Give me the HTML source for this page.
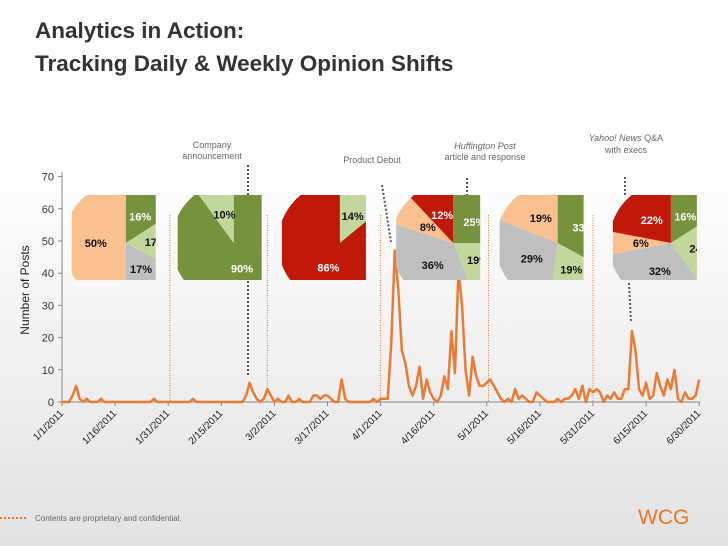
<!DOCTYPE html>
<html><head><meta charset="utf-8"><style>
html,body{margin:0;padding:0}
body{width:728px;height:546px;overflow:hidden;font-family:"Liberation Sans",sans-serif;background:linear-gradient(#fff 0%,#fff 30%,#f3f3f3 60%,#e2e2e2 100%)}
svg{position:absolute;left:0;top:0}
</style></head><body>
<svg id="c" width="728" height="546">
<text x="35" y="38" font-size="22.5" font-weight="bold" fill="#333">Analytics in Action:</text>
<text x="35" y="71" font-size="22.5" font-weight="bold" fill="#333">Tracking Daily &amp; Weekly Opinion Shifts</text>
<g font-size="9" fill="#666" text-anchor="middle">
<text x="212" y="148"><tspan x="212">Company</tspan><tspan x="212" dy="11">announcement</tspan></text>
<text x="372" y="163">Product Debut</text>
<text x="485" y="149"><tspan x="485" font-style="italic">Huffington Post</tspan><tspan x="485" dy="11">article and response</tspan></text>
<text x="626" y="141"><tspan x="626"><tspan font-style="italic">Yahoo! News</tspan> Q&amp;A</tspan><tspan x="626" dy="12">with execs</tspan></text>
</g>
<text transform="translate(29,290) rotate(-90)" font-size="12" fill="#222" text-anchor="middle">Number of Posts</text>
<g id="axes"></g>
<g id="marks"></g>
<g id="pies"></g>
<line x1="0" y1="518" x2="28" y2="518" stroke="#e87722" stroke-width="2" stroke-dasharray="2,2"/>
<text x="35" y="521" font-size="8" fill="#666">Contents are proprietary and confidential.</text>
<text x="638" y="524" font-size="21" fill="#e87722">WCG</text>
</svg>
<script>
const dateLabels=["1/1/2011","1/16/2011","1/31/2011","2/15/2011","3/2/2011","3/17/2011","4/1/2011","4/16/2011","5/1/2011","5/16/2011","5/31/2011","6/15/2011","6/30/2011"];
const yTicks=[0,10,20,30,40,50,60,70];
const posts=[0,0,0,2,5,1,0,1,0,0,
0,1,0,0,0,0,0,0,0,0,
0,0,0,0,0,0,1,0,0,0,
0,0,0,0,0,0,0,1,0,0,
0,0,0,0,0,0,0,0,0,0,
0,0,2,6,3,1,0,1,4,2,
0,1,0,0,2,0,0,1,0,0,
0,2,2,1,2,2,1,0,0,7,
1,0,0,0,0,0,0,0,1,0,
1,1,1,18,47,35,16,12,5,2,
5,11,1,7,3,1,0,2,8,4,
22,9,41,30,10,2,14,8,5,5,
6,7,5,3,1,0,1,0,4,1,
2,1,0,0,3,2,1,0,0,0,
1,0,1,1,2,4,1,5,0,4,
3,4,3,0,2,1,3,1,1,4,
4,22,16,4,2,6,1,2,9,5,
2,7,4,10,1,0,3,1,1,2,
7];
const weekMarkerDays=[30.5,58,90,120.5,150];
const pieCenterDays=[18,48.5,78.5,110.5,140,172];
const pie1=[16,17,17,50];
const pie2=[90,10];
const pie3=[14,86];
const pie4=[25,19,36,8,12];
const pie5=[33,19,29,19];
const pie6=[16,24,32,6,22];
const pieColors1=["#76923c","#c3d69b","#bfbfbf","#fac090"];
const pieColors2=["#76923c","#c3d69b"];
const pieColors3=["#c3d69b","#c0190a"];
const pieColors4=["#76923c","#c3d69b","#bfbfbf","#fac090","#c0190a"];
const pieColors6=["#76923c","#c3d69b","#bfbfbf","#fac090","#c0190a"];

const NS="http://www.w3.org/2000/svg";
const X0=62,DX=3.54,Y0=402,DY=3.22;
const xs=d=>X0+d*DX, ys=v=>Y0-v*DY;
function mk(t,a,p){const e=document.createElementNS(NS,t);for(const k in a)e.setAttribute(k,a[k]);p.appendChild(e);return e;}
const ax=document.getElementById('axes'),mg=document.getElementById('marks'),pg=document.getElementById('pies');
let e=mk('line',{x1:X0,y1:172,x2:X0,y2:Y0,stroke:'#888'},ax);


e=mk('line',{x1:X0,y1:Y0,x2:xs(180)+1,y2:Y0,stroke:'#888'},ax);


yTicks.forEach(v=>{
 mk('line',{x1:X0-4,y1:ys(v),x2:X0,y2:ys(v),stroke:'#888'},ax);
 const t=mk('text',{x:X0-8,y:ys(v)+4,'font-size':11,'text-anchor':'end',fill:'#333'},ax);t.textContent=v;
 
 
});
dateLabels.forEach((s,i)=>{
 const x=xs(i*15);
 mk('line',{x1:x,y1:Y0,x2:x,y2:Y0+4,stroke:'#888'},ax);
 const t=mk('text',{transform:`translate(${x+2},${Y0+12}) rotate(-45)`,'font-size':10,'text-anchor':'end',fill:'#222'},ax);t.textContent=s;
 
 
});
weekMarkerDays.forEach(d=>{
 const l=mk('line',{x1:xs(d),y1:215,x2:xs(d),y2:Y0,stroke:'#e87722','stroke-width':1,'stroke-dasharray':'1,1.5'},mg);
 
 
});
[[248,165,248,375],[382,185,391,242],[467,178,467,200],[625,177,625,196],[629,283,631,322]].forEach(p=>{
 const l=mk('line',{x1:p[0],y1:p[1],x2:p[2],y2:p[3],stroke:'#555','stroke-width':2,'stroke-dasharray':'2,2'},mg);
 
 
});
const pl=mk('polyline',{points:posts.map((v,i)=>xs(i)+','+ys(v)).join(' '),fill:'none',stroke:'#ec7a33','stroke-width':2.5,'stroke-linejoin':'round'},mg);



const pies=[[pie1,pieColors1],[pie2,pieColors2],[pie3,pieColors3],[pie4,pieColors4],[pie5,pieColors1],[pie6,pieColors6]];
const W=84,R=62,CY=243;
pies.forEach(([vals,cols],pi)=>{
 const cx=xs(pieCenterDays[pi]);
 const offs=[54,56,58,57,58,58][pi];
 const bx=cx-offs;
 const g=mk('g',{},pg);
 
 
 const cp=mk('clipPath',{id:'cp'+pi},g);mk('rect',{x:bx,y:195,width:W,height:85},cp);
 const inner=mk('g',{'clip-path':`url(#cp${pi})`},g);
 const tot=vals.reduce((a,b)=>a+b,0);let a0=0;
 vals.forEach((v,i)=>{
  const a1=a0+v/tot*2*Math.PI;
  const p=(a)=>[cx+R*Math.sin(a),CY-R*Math.cos(a)];
  const s=p(a0),t=p(a1);
  const s2=mk('path',{d:`M${cx},${CY}L${s[0]},${s[1]}A${R},${R} 0 ${a1-a0>Math.PI?1:0} 1 ${t[0]},${t[1]}Z`,fill:cols[i]},inner);
  
  
  const am=(a0+a1)/2,lr=v>60?27:30;
  const lx=cx+lr*Math.sin(am),ly=CY-lr*Math.cos(am)+4;
  const dark=cols[i]=="#76923c"||cols[i]=="#c0190a";
  const tx=mk('text',{x:lx,y:ly,'font-size':11,'font-weight':'bold','text-anchor':'middle',fill:dark?'#fff':'#111'},inner);
  tx.textContent=v+'%';
  
  
  a0=a1;
 });
});
</script>
</body></html>
